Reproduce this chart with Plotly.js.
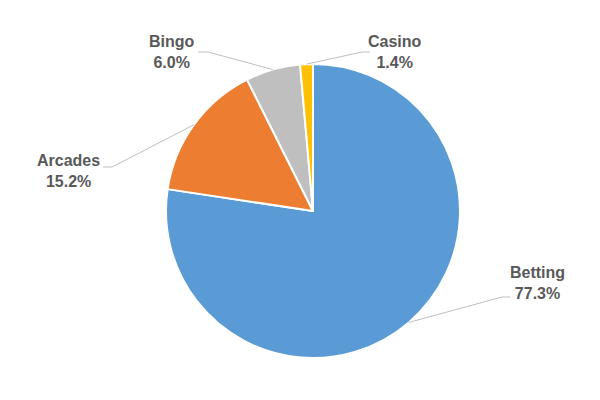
<!DOCTYPE html>
<html>
<head>
<meta charset="utf-8">
<script src="https://cdn.plot.ly/plotly-3.0.1.min.js"></script>
<style>
  html, body { margin: 0; padding: 0; background: #fff; }
  #chart { width: 600px; height: 400px; }
</style>
</head>
<body>
<div id="chart"></div>
<script>
"use strict";

// chart data (shares in percent, as printed on the chart)
const labels = ['Betting', 'Arcades', 'Bingo', 'Casino'];
const values = [77.3, 15.2, 6.0, 1.4];
const colors = ['#5B9BD5', '#ED7D31', '#BFBFBF', '#FFC000'];

// where each label sits (pixels): elbow of the leader, end of the leader, label centre
const labelLayout = {
  Betting: { elbow: [502, 297], end: [510, 297], text: [537, 283] },
  Arcades: { elbow: [112, 167], end: [103, 167], text: [68, 171] },
  Bingo:   { elbow: [208, 52],  end: [198, 52],  text: [172, 52] },
  Casino:  { elbow: [362, 52],  end: [370, 52],  text: [395, 52] }
};

const W = 600, H = 400;
const domX = [166 / W, 460 / W];
const domY = [42 / H, 336 / H];

const px = x => x / W;
const py = y => 1 - y / H;

// pie geometry in pixels
const cx = (domX[0] + domX[1]) / 2 * W;
const cy = H - (domY[0] + domY[1]) / 2 * H;
const radius = Math.min((domX[1] - domX[0]) * W, (domY[1] - domY[0]) * H) / 2;

const total = values.reduce((a, b) => a + b, 0);

let shapes = [];
let annotations = [];
let acc = 0;
labels.forEach((name, i) => {
  let mid = (acc + values[i] / 2) / total * 2 * Math.PI;
  acc += values[i];
  let ex = cx + radius * Math.sin(mid);
  let ey = cy - radius * Math.cos(mid);
  let l = labelLayout[name];

  shapes.push({
    type: 'path',
    xref: 'paper', yref: 'paper',
    path: 'M ' + px(ex) + ' ' + py(ey) +
          ' L ' + px(l.elbow[0]) + ' ' + py(l.elbow[1]) +
          ' L ' + px(l.end[0]) + ' ' + py(l.end[1]),
    line: { color: '#BFBFBF', width: 1 }
  });

  annotations.push({
    xref: 'paper', yref: 'paper',
    x: px(l.text[0]), y: py(l.text[1]),
    xanchor: 'center', yanchor: 'middle',
    showarrow: false,
    align: 'center',
    text: '<b>' + name + '</b><br><b>' + values[i].toFixed(1) + '%</b>',
    font: { family: 'Liberation Sans, Arial, sans-serif', size: 16, color: '#595959' }
  });
});

const data = [{
  type: 'pie',
  labels: labels,
  values: values,
  sort: false,
  direction: 'clockwise',
  rotation: 0,
  textinfo: 'none',
  hoverinfo: 'label+percent',
  domain: { x: domX, y: domY },
  marker: { colors: colors, line: { color: '#FFFFFF', width: 2 } }
}];

const layout = {
  width: W,
  height: H,
  margin: { l: 0, r: 0, t: 0, b: 0 },
  showlegend: false,
  paper_bgcolor: '#FFFFFF',
  shapes: shapes,
  annotations: annotations
};

Plotly.newPlot('chart', data, layout, { displayModeBar: false, staticPlot: true });
</script>
</body>
</html>
